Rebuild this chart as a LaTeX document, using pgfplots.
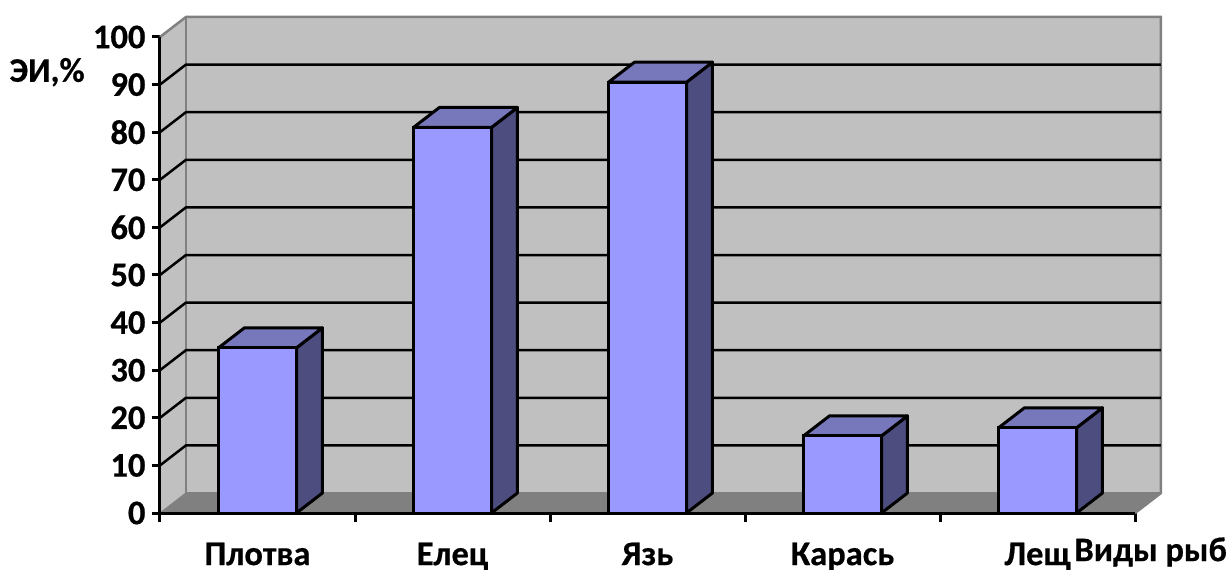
\documentclass[border=0pt]{standalone}
\usepackage{fontspec}
\setmainfont[BoldFeatures={FakeBold=0.5}]{Carlito}
\usepackage{pgfplots}
\pgfplotsset{compat=1.18}
\definecolor{wall}{HTML}{C0C0C0}
\definecolor{floorc}{HTML}{808080}
\definecolor{barf}{HTML}{9999FF}
\definecolor{bart}{HTML}{7777BB}
\definecolor{bars}{HTML}{4D4D80}
\begin{document}
\begin{tikzpicture}
\path[use as bounding box] (-160pt,-57pt) rectangle (1071pt,513pt);
\begin{axis}[
    anchor=origin, at={(0pt,0pt)},
    scale only axis, width=1001pt, height=496pt,
    xmin=0, xmax=5.133, ymin=0, ymax=104.2,
    clip=false,
    axis line style={draw=none},
    font=\fontsize{34.5}{38}\selectfont\bfseries,
    /pgf/number format/assume math mode=true,
    tick align=outside,
    major tick length=8pt, minor tick length=9pt,
    tick style={black, line width=3pt},
    major x tick style={draw=none},
    xtick pos=bottom, ytick pos=left,
    ytick={0,10,...,100},
    xtick={0.5,1.5,2.5,3.5,4.5},
    xticklabels={Плотва,Елец,Язь,Карась,Лещ},
    minor xtick={0,1,2,3,4,5},
    xticklabel style={inner sep=0pt, yshift=-21.5pt},
    yticklabel style={xshift=-3pt},
    xlabel={Виды рыб}, ylabel={ЭИ,\%},
    every axis x label/.style={at={(axis cs:5.08,-8.2)},anchor=center,inner sep=0pt},
    every axis y label/.style={at={(axis cs:-0.579,92.6)},anchor=center},
]
% walls and floor
\addplot[fill=wall, draw=none] coordinates {(0.133,4.2) (5.133,4.2) (5.133,104.2) (0.133,104.2) (0.133,4.2)};
\addplot[fill=wall, draw=none] coordinates {(0,0) (0.133,4.2) (0.133,104.2) (0,100) (0,0)};
\addplot[fill=floorc, draw=none] coordinates {(0,0) (5,0) (5.133,4.2) (0.133,4.2) (0,0)};
\addplot[floorc, line width=2.5pt] coordinates {(0,100) (0.133,104.2) (5.133,104.2) (5.133,4.2) (5,0)};
\addplot[floorc, line width=2.5pt] coordinates {(0.133,104.2) (0.133,4.2) (5.133,4.2)};
\addplot[floorc, line width=1pt] coordinates {(0,0) (0.133,4.2)};
% grid
\foreach \v/\w in {10/14.2,20/24.2,30/34.2,40/44.2,50/54.2,60/64.2,70/74.2,80/84.2,90/94.2}{
  \edef\temp{\noexpand\addplot[black, line width=2.5pt] coordinates {(0,\v) (0.133,\w) (5.133,\w)};}
  \temp
}
% bar sides
\addplot[fill=bars, draw=black, line width=3pt, line join=round] coordinates {(0.7,0) (0.833,4.2) (0.833,38.9) (0.7,34.7) (0.7,0)};
\addplot[fill=bars, draw=black, line width=3pt, line join=round] coordinates {(1.7,0) (1.833,4.2) (1.833,85.2) (1.7,81) (1.7,0)};
\addplot[fill=bars, draw=black, line width=3pt, line join=round] coordinates {(2.7,0) (2.833,4.2) (2.833,94.7) (2.7,90.5) (2.7,0)};
\addplot[fill=bars, draw=black, line width=3pt, line join=round] coordinates {(3.7,0) (3.833,4.2) (3.833,20.4) (3.7,16.2) (3.7,0)};
\addplot[fill=bars, draw=black, line width=3pt, line join=round] coordinates {(4.7,0) (4.833,4.2) (4.833,22.1) (4.7,17.9) (4.7,0)};
% bar tops
\addplot[fill=bart, draw=black, line width=3pt, line join=round] coordinates {(0.3,34.7) (0.7,34.7) (0.833,38.9) (0.433,38.9) (0.3,34.7)};
\addplot[fill=bart, draw=black, line width=3pt, line join=round] coordinates {(1.3,81) (1.7,81) (1.833,85.2) (1.433,85.2) (1.3,81)};
\addplot[fill=bart, draw=black, line width=3pt, line join=round] coordinates {(2.3,90.5) (2.7,90.5) (2.833,94.7) (2.433,94.7) (2.3,90.5)};
\addplot[fill=bart, draw=black, line width=3pt, line join=round] coordinates {(3.3,16.2) (3.7,16.2) (3.833,20.4) (3.433,20.4) (3.3,16.2)};
\addplot[fill=bart, draw=black, line width=3pt, line join=round] coordinates {(4.3,17.9) (4.7,17.9) (4.833,22.1) (4.433,22.1) (4.3,17.9)};
% bar fronts
\addplot[ybar, bar width=0.4, bar shift=0pt, fill=barf, draw=black, line width=3pt]
  coordinates {(0.5,34.7) (1.5,81) (2.5,90.5) (3.5,16.2) (4.5,17.9)};
% axis lines
\addplot[black, line width=3pt] coordinates {(0,100) (0,0) (5,0)};
\end{axis}
\end{tikzpicture}
\end{document}
